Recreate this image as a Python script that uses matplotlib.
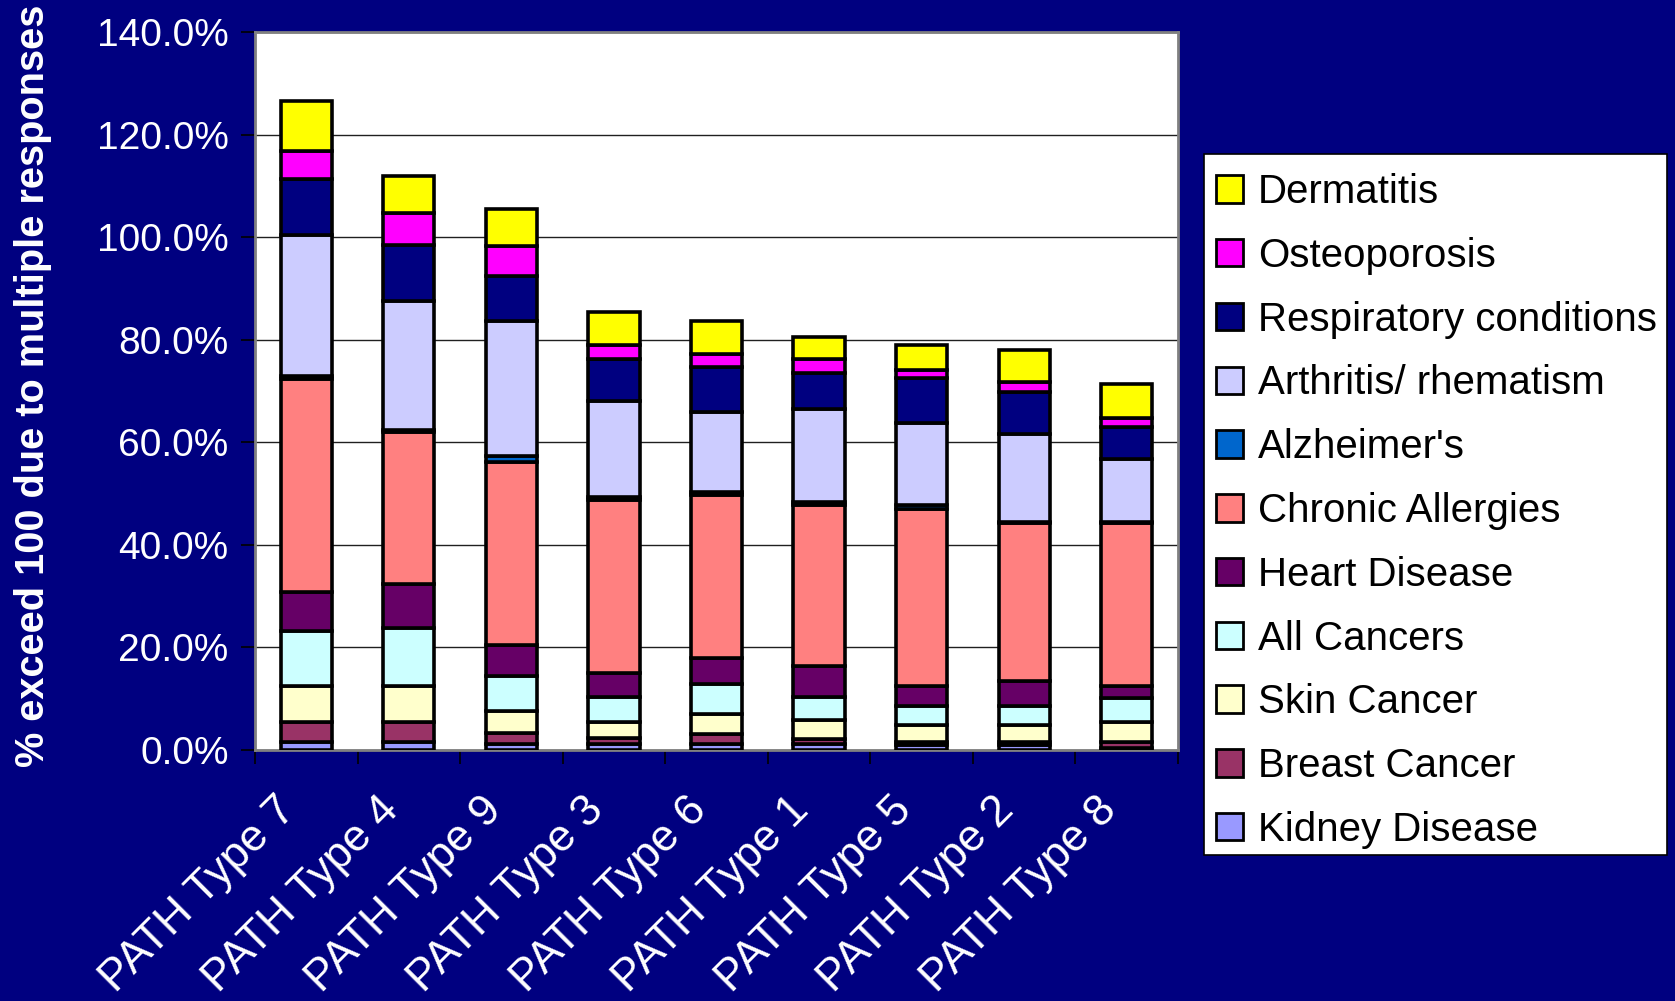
import matplotlib
matplotlib.use("Agg")
import matplotlib.pyplot as plt
import numpy as np
from matplotlib.ticker import FuncFormatter, FixedLocator
from matplotlib.transforms import ScaledTranslation
from matplotlib.patches import Rectangle

plt.rcParams['font.family'] = ['Liberation Sans', 'DejaVu Sans']

categories = ['PATH Type 7', 'PATH Type 4', 'PATH Type 9', 'PATH Type 3', 'PATH Type 6',
              'PATH Type 1', 'PATH Type 5', 'PATH Type 2', 'PATH Type 8']

# percentage of respondents per condition (stacked bottom to top)
kidney_disease = [1.5, 1.5, 1.2, 1.2, 1.2, 1.2, 0.9, 0.9, 0.4]
breast_cancer = [4.0, 4.0, 2.2, 1.1, 1.9, 0.9, 0.7, 0.7, 1.2]
skin_cancer = [7.0, 7.0, 4.2, 3.1, 3.9, 3.8, 3.3, 3.3, 3.9]
all_cancers = [10.7, 11.2, 6.9, 4.9, 5.9, 4.4, 3.7, 3.7, 4.7]
heart_disease = [7.7, 8.7, 6.0, 4.8, 5.0, 6.0, 3.9, 4.9, 2.3]
chronic_allergies = [41.4, 29.6, 35.7, 33.7, 31.8, 31.4, 34.5, 30.8, 31.8]
alzheimers = [0.6, 0.3, 1.1, 0.5, 0.7, 0.6, 0.7, 0.2, 0.1]
arthritis = [27.5, 25.2, 26.4, 18.8, 15.5, 18.1, 16.0, 17.1, 12.3]
respiratory = [10.9, 11.0, 8.7, 8.1, 8.7, 7.1, 8.8, 8.3, 6.2]
osteoporosis = [5.5, 6.3, 5.9, 2.7, 2.6, 2.7, 1.6, 1.9, 1.9]
dermatitis = [9.7, 7.2, 7.1, 6.5, 6.5, 4.4, 4.9, 6.1, 6.6]

series = [
    ('Kidney Disease', kidney_disease, '#9999FF'),
    ('Breast Cancer', breast_cancer, '#993366'),
    ('Skin Cancer', skin_cancer, '#FFFFCC'),
    ('All Cancers', all_cancers, '#CCFFFF'),
    ('Heart Disease', heart_disease, '#660066'),
    ('Chronic Allergies', chronic_allergies, '#FF8080'),
    ("Alzheimer's", alzheimers, '#0066CC'),
    ('Arthritis/ rhematism', arthritis, '#CCCCFF'),
    ('Respiratory conditions', respiratory, '#000080'),
    ('Osteoporosis', osteoporosis, '#FF00FF'),
    ('Dermatitis', dermatitis, '#FFFF00'),
]

W, H = 1675, 1001
navy = '#000080'
fig = plt.figure(figsize=(W / 100, H / 100), dpi=100, facecolor=navy)
ax = fig.add_axes([255 / W, 1 - 750 / H, 923 / W, 718 / H])
ax.set_facecolor('white')

x = np.arange(len(categories))
bottom = np.zeros(len(categories))
handles = []
for name, vals, color in series:
    vals = np.array(vals)
    b = ax.bar(x, vals, width=0.5, bottom=bottom, color=color,
               edgecolor='black', linewidth=2.6, label=name, zorder=3)
    handles.append(b)
    bottom += vals

ax.set_xlim(-0.5, len(categories) - 0.5)
ax.set_ylim(0, 140)
ax.set_yticks(np.arange(0, 141, 20))
ax.yaxis.set_major_formatter(FuncFormatter(lambda v, p: f'{v:.1f}%'))
ax.yaxis.grid(True, color='#202020', linewidth=1.0, zorder=0)
ax.set_axisbelow(True)

ax.set_xticks(x)
ax.set_xticklabels(categories, rotation=45, ha='right', rotation_mode='anchor')
ax.xaxis.set_minor_locator(FixedLocator(np.arange(-0.5, len(categories), 1.0)))
ax.tick_params(axis='x', which='major', length=0, pad=28, labelsize=32, labelcolor='white')
ax.tick_params(axis='x', which='minor', length=10, width=1.2, color='black')
ax.tick_params(axis='y', length=10, width=1.2, color='black', pad=9,
               labelsize=28, labelcolor='white')

# nudge the slanted category labels so they end just left of each bar centre
shift = ScaledTranslation(-31 / 100, 0, fig.dpi_scale_trans)
for lbl in ax.get_xticklabels():
    lbl.set_transform(lbl.get_transform() + shift)

for sp in ax.spines.values():
    sp.set_color('#808080')
    sp.set_linewidth(2)

fig.text(33 / W, 1 - 386 / H, '% exceed 100 due to multiple responses',
         rotation=90, ha='center', va='center', color='white',
         fontsize=28.6, fontweight='bold')

# legend box drawn separately so the entries sit centred inside it
box_l, box_t, box_r, box_b = 1204, 154, 1667, 855
fig.patches.append(Rectangle((box_l / W, 1 - box_b / H), (box_r - box_l) / W,
                             (box_b - box_t) / H, transform=fig.transFigure,
                             facecolor='white', edgecolor='black', linewidth=1.2,
                             zorder=1))

leg = fig.legend(handles[::-1], [s[0] for s in series][::-1],
                 loc='upper left', bbox_to_anchor=(box_l / W, 1 - (box_t + 7) / H),
                 bbox_transform=fig.transFigure, borderaxespad=0,
                 fontsize=29, frameon=False,
                 handlelength=0.67, handleheight=0.67, handletextpad=0.37,
                 labelspacing=0.64, borderpad=0.3)
leg.set_zorder(5)
for h in leg.legend_handles:
    h.set_linewidth(2)

fig.savefig('out.png', dpi=100, facecolor=navy)
